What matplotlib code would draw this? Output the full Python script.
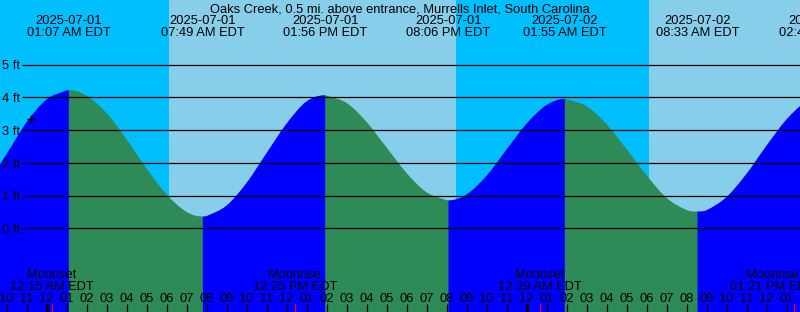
import numpy as np
import pandas as pd
import matplotlib
matplotlib.use("Agg")
import matplotlib.pyplot as plt
from matplotlib.path import Path
from matplotlib.patches import PathPatch
from matplotlib.transforms import blended_transform_factory as btf

# ---------------- data ----------------
station = "Oaks Creek, 0.5 mi. above entrance, Murrells Inlet, South Carolina"

extreme_times = ["2025-07-01 01:07", "2025-07-01 07:49", "2025-07-01 13:56",
                 "2025-07-01 20:06", "2025-07-02 01:55", "2025-07-02 08:33",
                 "2025-07-02 14:45"]
extreme_heights = [4.22, 0.36, 4.06, 0.85, 3.95, 0.51, 4.05]
extreme_types = ["H", "L", "H", "L", "H", "L", "H"]

hourly_start = "2025-06-30 21:00"
hourly_heights = [1.31, 2.26, 3.23, 3.93, 4.21, 4.05, 3.52, 2.72, 1.83, 1.04,
                  0.50, 0.37, 0.69, 1.38, 2.29, 3.19, 3.87, 4.05, 3.83, 3.25,
                  2.47, 1.69, 1.10, 0.86, 1.03, 1.60, 2.40, 3.19, 3.76, 3.94,
                  3.73, 3.18, 2.42, 1.62, 0.93, 0.56, 0.55, 0.95, 1.66, 2.52,
                  3.32, 3.88]

sunrise_times = ["2025-07-01 06:07", "2025-07-02 06:07"]
sunset_times = ["2025-07-01 20:28"]

moon_names = ["Moonset", "Moonrise", "Moonset", "Moonrise"]
moon_times = ["2025-07-01 00:15", "2025-07-01 12:25", "2025-07-02 00:39",
              "2025-07-02 13:21"]

now_time = "2025-06-30 23:12"
now_height = 3.35

ft_levels = [0, 1, 2, 3, 4, 5]

# ---------------- layout ----------------
W, H = 800, 312
PX_PER_HOUR = 20.0
X_MIDNIGHT = 46.5
PX_PER_FT = 32.75
Y_ZERO = 228.3

NIGHT = "#00BFFF"
DAY = "#87CEEB"
RISE = "#0000FF"
FALL = "#2E8B57"

plt.rcParams["font.family"] = ["Liberation Sans", "DejaVu Sans"]
FS = 9.3

origin = pd.Timestamp("2025-07-01 00:00")


def hrs(s):
    return (pd.Timestamp(s) - origin) / pd.Timedelta(hours=1)


def py(ypx):
    return 1 - ypx / H


t0 = -X_MIDNIGHT / PX_PER_HOUR
t1 = t0 + W / PX_PER_HOUR
ymax = Y_ZERO / PX_PER_FT
ymin = -(H - Y_ZERO) / PX_PER_FT

fig = plt.figure(figsize=(W / 100, H / 100), dpi=100)
ax = fig.add_axes([0, 0, 1, 1])
ax.set_xlim(t0, t1)
ax.set_ylim(ymin, ymax)
ax.set_axis_off()
ax.add_patch(plt.Rectangle((0, 0), 1, 1, transform=ax.transAxes,
                           color=NIGHT, zorder=0))

tx_ay = btf(ax.transData, ax.transAxes)
ax_ty = btf(ax.transAxes, ax.transData)

# day spans
rises = [hrs(s) for s in sunrise_times]
sets = [hrs(s) for s in sunset_times]
for r in rises:
    later = [s for s in sets if s > r]
    end = later[0] if later else t1 + 1
    ax.axvspan(r, end, color=DAY, lw=0, zorder=1)

# tide curve: hourly readings plus extremes, drawn as a smooth Hermite path
ext_t = np.array([hrs(s) for s in extreme_times])
ext_h = np.array(extreme_heights)
h_t = hrs(hourly_start) + np.arange(len(hourly_heights))
all_t = np.concatenate([h_t, ext_t])
all_h = np.concatenate([np.array(hourly_heights), ext_h])
is_ext = np.concatenate([np.zeros(len(h_t), bool), np.ones(len(ext_t), bool)])
order = np.argsort(all_t)
ct, ch, ce = all_t[order], all_h[order], is_ext[order]
n = len(ct)

m = np.zeros(n)
for i in range(n):
    if ce[i]:
        m[i] = 0.0
    elif i == 0:
        m[i] = (ch[1] - ch[0]) / (ct[1] - ct[0])
    elif i == n - 1:
        m[i] = (ch[-1] - ch[-2]) / (ct[-1] - ct[-2])
    else:
        m[i] = (ch[i + 1] - ch[i - 1]) / (ct[i + 1] - ct[i - 1])

ybot = ymin - 1


def curve_patch(ia, ib, color, z):
    verts = [(ct[ia], ch[ia])]
    codes = [Path.MOVETO]
    for i in range(ia, ib):
        dt = ct[i + 1] - ct[i]
        verts += [(ct[i] + dt / 3, ch[i] + m[i] * dt / 3),
                  (ct[i + 1] - dt / 3, ch[i + 1] - m[i + 1] * dt / 3),
                  (ct[i + 1], ch[i + 1])]
        codes += [Path.CURVE4] * 3
    verts += [(ct[ib], ybot), (ct[ia], ybot), (ct[ia], ch[ia])]
    codes += [Path.LINETO, Path.LINETO, Path.CLOSEPOLY]
    ax.add_patch(PathPatch(Path(verts, codes), facecolor=color,
                           edgecolor="none", lw=0, zorder=z))


# whole curve in falling colour, then rising stretches on top
curve_patch(0, n - 1, FALL, 2)
bounds = [0] + [int(i) for i in np.where(ce)[0]] + [n - 1]
for a, b in zip(bounds[:-1], bounds[1:]):
    if b > a and ch[b] > ch[a]:
        curve_patch(a, b, RISE, 3)

# height lines and labels
for v in ft_levels:
    ax.plot([22 / W, 1], [v, v], color="black", lw=0.9, transform=ax_ty,
            zorder=5, solid_capstyle="butt")
    ax.text(2 / W, v - 4.7 / PX_PER_FT, f"{v} ft", ha="left", va="baseline",
            fontsize=FS, transform=ax_ty, zorder=6)

# title
ax.text(0.5, py(12), station, ha="center", va="baseline", fontsize=FS,
        transform=ax.transAxes, zorder=6)

# extreme labels
for s in extreme_times:
    ts = pd.Timestamp(s)
    x = hrs(s)
    ax.text(x, py(24.3), ts.strftime("%Y-%m-%d"), ha="center", va="baseline",
            fontsize=FS, transform=tx_ay, zorder=6)
    ax.text(x, py(36), ts.strftime("%I:%M %p EDT"), ha="center",
            va="baseline", fontsize=FS, transform=tx_ay, zorder=6)

# now marker
ax.plot([hrs(now_time)], [now_height], marker="+", ms=6, mew=1,
        color="black", zorder=7)

# hour ticks
hours = np.arange(np.ceil(t0), np.floor(t1) + 1)
for hh in hours:
    ts = origin + pd.Timedelta(hours=float(hh))
    mid = ts.hour == 0
    ax.plot([hh, hh], [py(312), py(304)], color="black",
            lw=2.2 if mid else 0.9, transform=tx_ay, zorder=6,
            solid_capstyle="butt")
    ax.text(hh, py(302), ts.strftime("%I"), ha="center", va="baseline",
            fontsize=FS, transform=tx_ay, zorder=6)

# moon events
for name, s in zip(moon_names, moon_times):
    ts = pd.Timestamp(s)
    x = hrs(s)
    ax.plot([x, x], [py(312), py(303.5)], color="red", lw=0.9,
            transform=tx_ay, zorder=6, solid_capstyle="butt")
    xpx = min(X_MIDNIGHT + PX_PER_HOUR * x, W - 28)
    ax.text(xpx / W, py(278.3), name, ha="center", va="baseline",
            fontsize=FS, transform=ax.transAxes, zorder=6)
    ax.text(xpx / W, py(290), ts.strftime("%I:%M %p EDT"), ha="center",
            va="baseline", fontsize=FS, transform=ax.transAxes, zorder=6)

fig.savefig("out.png", dpi=100)
